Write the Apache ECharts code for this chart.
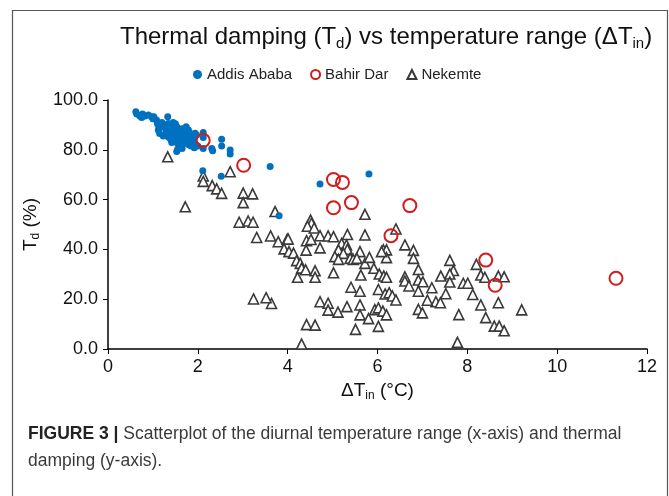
<!DOCTYPE html>
<html>
<head>
<meta charset="utf-8">
<script src="https://cdn.jsdelivr.net/npm/echarts@6/dist/echarts.min.js"></script>
<style>
  html, body { margin: 0; padding: 0; background: #fff; }
  #main { width: 669px; height: 496px; }
</style>
</head>
<body>
<div id="main"></div>
<script>
/*------------------------------- 数据 -------------------------------*/
var seriesNames = ['Addis Ababa', 'Bahir Dar', 'Nekemte'];
var xTicks = [0, 2, 4, 6, 8, 10, 12];
var yTicks = [0, 20, 40, 60, 80, 100];

// Addis Ababa [ΔTin, Td]
var addisData = [
    [0.62, 95.3], [0.64, 94.4], [0.71, 93.6], [0.77, 94.4], [0.82, 93.6], [0.9, 94.0],
    [0.97, 93.3], [1.02, 93.3], [1.08, 92.0], [1.1, 90.6], [1.12, 90.0], [1.33, 93.3],
    [1.34, 90.6], [1.38, 90.0], [1.42, 89.3], [1.45, 88.6], [1.49, 88.0], [1.53, 89.3],
    [1.57, 87.3], [1.6, 88.0], [1.64, 86.6], [1.68, 87.3], [1.71, 88.6], [1.74, 89.3],
    [1.75, 85.9], [1.79, 88.0], [1.83, 86.6], [1.86, 85.3], [1.9, 84.6], [1.94, 86.6],
    [1.97, 85.9], [1.83, 83.9], [1.79, 82.6], [1.71, 83.9], [1.64, 84.6], [1.57, 85.3],
    [1.49, 85.9], [1.42, 86.6], [1.38, 87.3], [1.34, 88.0], [1.23, 85.5], [1.42, 82.9],
    [1.53, 79.3], [1.55, 80.2], [1.92, 80.8], [2.12, 86.9], [2.12, 80.5], [2.31, 80.5],
    [2.33, 79.6], [2.53, 84.2], [2.53, 81.5], [2.72, 79.9], [2.72, 78.3], [3.61, 73.3],
    [1.2, 91.0], [1.25, 89.0], [1.3, 87.0], [1.45, 91.0], [1.5, 90.5], [1.55, 86.0],
    [1.6, 84.0], [1.65, 88.5], [1.7, 85.0], [1.75, 84.0], [1.8, 82.0], [1.85, 81.5],
    [1.88, 83.0], [1.95, 82.0], [2.0, 81.5], [1.12, 88.0], [1.15, 86.5], [1.0, 92.5],
    [0.75, 93.0], [1.35, 85.0], [1.4, 84.0], [1.5, 83.5], [1.55, 82.5], [1.6, 81.5],
    [1.7, 82.5], [1.65, 80.5], [2.11, 71.6], [2.52, 69.4], [4.72, 66.3], [3.81, 53.5],
    [5.81, 70.3], [2.12, 84.9]
];

// Bahir Dar
var bahirData = [
    [2.12, 83.8], [3.02, 73.8], [5.02, 68.1], [5.22, 66.9], [5.02, 56.7], [5.42, 58.8],
    [6.72, 57.6], [6.3, 45.5], [8.41, 35.7], [8.62, 25.6], [11.31, 28.4]
];

// Nekemte
var nekemteData = [
    [1.33, 77.2], [2.12, 69.5], [2.12, 67.3], [2.72, 71.2], [2.32, 65.6], [2.42, 64.3],
    [2.53, 62.5], [3.01, 62.6], [3.22, 62.3], [3.01, 58.8], [1.72, 57.1], [3.72, 55.2],
    [2.92, 50.9], [3.12, 51.4], [3.23, 50.9], [3.31, 44.8], [3.62, 45.4], [3.79, 43.1],
    [3.99, 44.1], [4.01, 44.2], [3.92, 40.2], [4.03, 39.1], [4.13, 38.5],
    [4.2, 35.5], [4.28, 34.4], [4.31, 32.5], [4.4, 31.8], [4.61, 31.4], [4.22, 28.8],
    [4.61, 28.8], [5.02, 30.6], [4.42, 43.5], [4.41, 39.7], [4.51, 51.8], [4.53, 50.5],
    [4.44, 49.3], [4.59, 48.6], [4.52, 44.0], [4.72, 40.6], [4.72, 45.5], [4.9, 45.4],
    [5.02, 45.1], [5.33, 46.0], [5.72, 45.8], [5.72, 54.1], [6.41, 48.2],
    [5.2, 42.4], [5.31, 41.8], [5.33, 40.0], [5.13, 39.8], [5.24, 38.4], [5.05, 37.1],
    [5.13, 36.0], [5.39, 36.4], [5.46, 36.0], [5.61, 39.1], [5.54, 36.4], [5.72, 34.4],
    [5.82, 36.8], [6.13, 39.8], [6.2, 39.8], [6.2, 36.7], [6.09, 39.1], [6.61, 41.8],
    [6.8, 39.6], [6.8, 36.4], [5.92, 32.4], [6.04, 30.1], [6.14, 29.3], [6.2, 28.8],
    [5.63, 29.7], [5.41, 24.8], [5.61, 23.2], [6.02, 23.9], [6.17, 22.1], [6.26, 22.6],
    [6.33, 21.3], [6.41, 19.7], [6.61, 29.0], [6.61, 27.3], [6.7, 25.3], [6.91, 31.9],
    [6.91, 27.7], [7.01, 27.0], [6.91, 23.2], [7.21, 24.6], [7.61, 35.6], [7.69, 31.5],
    [7.61, 30.1], [7.41, 29.3], [7.61, 26.9], [7.52, 22.2], [7.3, 19.0], [7.4, 18.6],
    [7.11, 19.6], [4.72, 19.0], [4.9, 18.4], [4.9, 15.6], [5.12, 14.8], [5.32, 17.0],
    [5.61, 17.7], [5.61, 13.7], [5.8, 12.2], [6.02, 9.1], [5.94, 15.8], [6.02, 16.5],
    [6.12, 15.2], [6.2, 13.7], [5.51, 7.9], [4.42, 9.8], [4.61, 9.6], [4.31, 2.0],
    [3.64, 18.3], [3.24, 20.1], [3.52, 20.6], [6.91, 15.9], [7.0, 14.5], [7.81, 13.8],
    [7.78, 2.7], [7.91, 26.4], [8.01, 26.4], [8.12, 21.9], [8.2, 34.0], [8.3, 29.7],
    [8.39, 28.8], [8.3, 17.7], [8.41, 12.6], [8.6, 9.2], [8.71, 9.2], [8.82, 7.3],
    [8.69, 29.3], [8.82, 29.0], [8.69, 18.6], [9.21, 15.7]
];

/*------------------------------- 图表 -------------------------------*/
var FONT = '"Liberation Sans", Arial, sans-serif';
var chart = echarts.init(document.getElementById('main'));

var option = {
    animation: false,
    backgroundColor: '#fff',
    textStyle: { fontFamily: FONT },
    title: {
        text: 'Thermal damping (T{sub|d}) vs temperature range (ΔT{sub|in})',
        left: 115,
        top: 19,
        textStyle: {
            fontFamily: FONT,
            fontWeight: 'normal',
            fontSize: 24,
            color: '#111',
            rich: {
                sub: { fontFamily: FONT, fontSize: 15, color: '#111', padding: [12, 0, 0, 0] }
            }
        }
    },
    legend: {
        left: 188,
        top: 62,
        itemWidth: 9,
        itemHeight: 9,
        itemGap: 18,
        textStyle: { fontFamily: FONT, fontSize: 15, color: '#222' },
        data: [
            { name: seriesNames[0], icon: 'circle', itemStyle: { color: '#0070c0' } },
            { name: seriesNames[1], icon: 'circle' },
            { name: seriesNames[2], icon: 'triangle' }
        ]
    },
    grid: { left: 108, right: 22, top: 100, bottom: 147 },
    xAxis: {
        type: 'value',
        min: xTicks[0],
        max: xTicks[xTicks.length - 1],
        interval: 2,
        name: 'ΔT{sub|in} (°C)',
        nameLocation: 'middle',
        nameGap: 27,
        nameTextStyle: {
            fontFamily: FONT, fontSize: 19, color: '#111',
            rich: { sub: { fontFamily: FONT, fontSize: 12, color: '#111', padding: [11, 0, 0, 0] } }
        },
        axisLine: { show: true, lineStyle: { color: '#000', width: 1.5 } },
        axisTick: { show: true, length: 5, lineStyle: { color: '#000' } },
        axisLabel: { fontFamily: FONT, fontSize: 18, color: '#111', margin: 9 },
        splitLine: { show: false }
    },
    yAxis: {
        type: 'value',
        min: yTicks[0],
        max: yTicks[yTicks.length - 1],
        interval: 20,
        name: 'T{sub|d} (%)',
        nameLocation: 'middle',
        nameGap: 61,
        nameTextStyle: {
            fontFamily: FONT, fontSize: 19, color: '#111',
            rich: { sub: { fontFamily: FONT, fontSize: 12, color: '#111', padding: [11, 0, 0, 0] } }
        },
        axisLine: { show: true, lineStyle: { color: '#000', width: 1.5 } },
        axisTick: { show: true, length: 5, lineStyle: { color: '#000' } },
        axisLabel: {
            fontFamily: FONT, fontSize: 18, color: '#111', margin: 10,
            formatter: function (v) { return v.toFixed(1); }
        },
        splitLine: { show: false }
    },
    series: [
        {
            name: seriesNames[2],
            type: 'scatter',
            symbol: 'triangle',
            symbolSize: 10,
            itemStyle: { color: '#fff', borderColor: '#3a3a3a', borderWidth: 1.6, opacity: 1 },
            data: nekemteData
        },
        {
            name: seriesNames[0],
            type: 'scatter',
            symbol: 'circle',
            symbolSize: 7,
            itemStyle: { color: '#0070c0', opacity: 1 },
            data: addisData
        },
        {
            name: seriesNames[1],
            type: 'scatter',
            symbol: 'circle',
            symbolSize: 13,
            itemStyle: { color: 'rgba(255,255,255,0)', borderColor: '#d01c1c', borderWidth: 2, opacity: 1 },
            data: bahirData
        }
    ],
    graphic: [
        {
            type: 'rect',
            left: 10, top: 8,
            shape: { width: 655, height: 500 },
            style: { fill: 'none', stroke: '#555', lineWidth: 1.2 },
            silent: true
        },
        {
            type: 'text',
            left: 28, top: 421,
            style: {
                text: '{b|FIGURE 3 |} Scatterplot of the diurnal temperature range (x-axis) and thermal\ndamping (y-axis).',
                fontFamily: FONT,
                fontSize: 17.5,
                lineHeight: 27,
                fill: '#3a3a3a',
                rich: { b: { fontFamily: FONT, fontSize: 17.5, fontWeight: 'bold', fill: '#222', lineHeight: 27 } }
            }
        }
    ]
};

chart.setOption(option);
</script>
</body>
</html>
